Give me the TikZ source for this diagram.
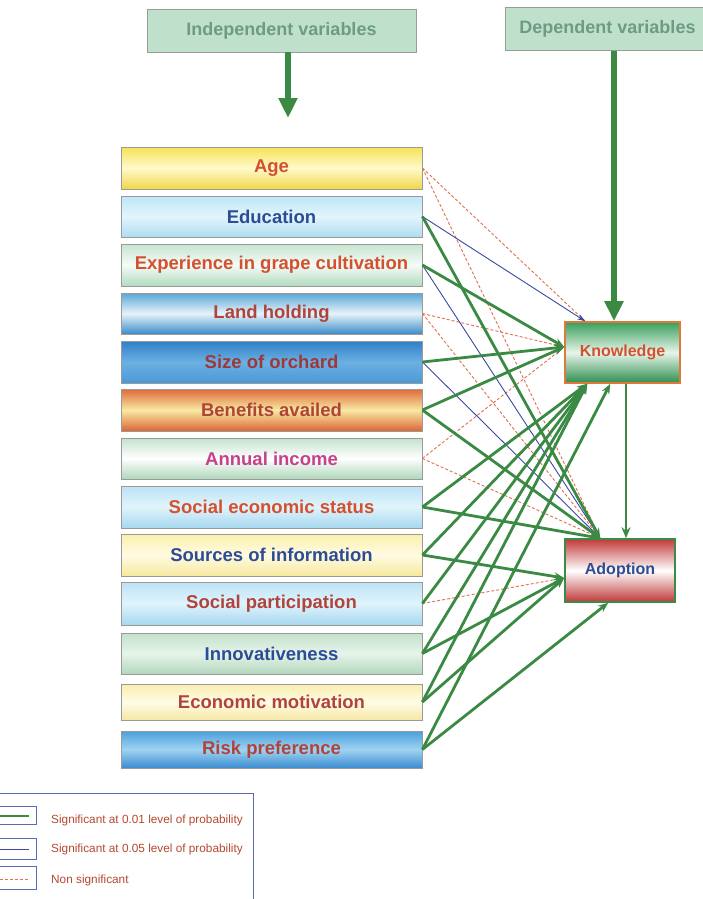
\documentclass[tikz,border=0pt]{standalone}
\usepackage{fontspec}
\setmainfont{Liberation Sans}
\usetikzlibrary{arrows.meta,calc}
\definecolor{boxgray}{HTML}{9A9A9A}
\definecolor{tred}{HTML}{D4502E}
\definecolor{tbrown}{HTML}{B0443A}
\definecolor{tdark}{HTML}{9E3838}
\definecolor{tblue}{HTML}{2C4C96}
\definecolor{tpink}{HTML}{C8408C}
\definecolor{sgreen}{HTML}{3A8A44}
\definecolor{sblue}{HTML}{3A4AA0}
\definecolor{nsred}{HTML}{E0704E}
\definecolor{topfill}{HTML}{BFE1CB}
\definecolor{toptext}{HTML}{6E9A86}
\definecolor{legblue}{HTML}{5A6AB0}
\definecolor{legtext}{HTML}{B44A2E}
\definecolor{knborder}{HTML}{E0783A}
\definecolor{adborder}{HTML}{3A8A48}
% fills: A = top, B = middle, C = bottom
\definecolor{ageA}{HTML}{F6E256}\definecolor{ageB}{HTML}{FFF9CC}\definecolor{ageC}{HTML}{F1D74A}
\definecolor{eduA}{HTML}{BFE6F7}\definecolor{eduB}{HTML}{E2F5FC}\definecolor{eduC}{HTML}{AEDCF1}
\definecolor{expA}{HTML}{C6E5CF}\definecolor{expB}{HTML}{F5FBF7}\definecolor{expC}{HTML}{B2DBBF}
\definecolor{lanA}{HTML}{5AA6D6}\definecolor{lanB}{HTML}{E6F3FA}\definecolor{lanC}{HTML}{3C8CC8}
\definecolor{sizA}{HTML}{2E7FC8}\definecolor{sizB}{HTML}{6CB0E2}\definecolor{sizC}{HTML}{4A98D6}
\definecolor{benA}{HTML}{E06A3A}\definecolor{benB}{HTML}{F7E9A2}\definecolor{benC}{HTML}{DC6638}
\definecolor{annA}{HTML}{C4E3CD}\definecolor{annB}{HTML}{FFFFFF}\definecolor{annC}{HTML}{AED7BA}
\definecolor{sesA}{HTML}{BCE3F5}\definecolor{sesB}{HTML}{E0F4FC}\definecolor{sesC}{HTML}{A6D7EF}
\definecolor{srcA}{HTML}{FBF0AE}\definecolor{srcB}{HTML}{FFFBE2}\definecolor{srcC}{HTML}{F6E89E}
\definecolor{innA}{HTML}{C2E1CB}\definecolor{innB}{HTML}{E6F4EA}\definecolor{innC}{HTML}{B2D7BD}
\definecolor{ecoA}{HTML}{FAEEAE}\definecolor{ecoB}{HTML}{FFFCE6}\definecolor{ecoC}{HTML}{F5E7A6}
\definecolor{rskA}{HTML}{4AA0DC}\definecolor{rskB}{HTML}{A0D3F2}\definecolor{rskC}{HTML}{3A8CD0}
\definecolor{knA}{HTML}{3A9E5A}\definecolor{knB}{HTML}{E6F5EA}\definecolor{knC}{HTML}{2E8E4E}
\definecolor{adA}{HTML}{C23A3A}\definecolor{adB}{HTML}{FFFFFF}\definecolor{adC}{HTML}{C03838}
\begin{document}
\begin{tikzpicture}[x=1pt,y=-1pt,
  ivbox/.style={draw=boxgray, line width=0.8pt, minimum width=301pt, inner sep=0pt,
    font=\bfseries\fontsize{18.5}{20}\selectfont},
  shd/.style={top color=#1A, bottom color=#1C, middle color=#1B},
  topbox/.style={draw=boxgray, line width=0.8pt, fill=topfill, inner sep=0pt,
    text=toptext, font=\bfseries\fontsize{18}{20}\selectfont},
  sig1/.style={draw=sgreen, line width=2.8pt, -{Stealth[length=10pt,width=8pt]}},
  sig5/.style={draw=sblue, line width=0.9pt, -{Stealth[length=8pt,width=5.5pt]}},
  nsig/.style={draw=nsred, line width=0.9pt, dash pattern=on 3pt off 2pt},
  bigarrow/.style={draw=sgreen, line width=6pt, -{Triangle[length=20pt,width=18pt]}},
  medarrow/.style={draw=sgreen, line width=2.4pt, -{Stealth[length=11pt,width=9pt]}},
  legtxt/.style={anchor=west, inner sep=0pt, text=legtext, font=\fontsize{11.8}{13}\selectfont},
  legbox/.style={draw=legblue, line width=0.8pt}
]
\useasboundingbox (0,0) rectangle (703,899);
\clip (0,0) rectangle (703,899);
\fill[white] (0,0) rectangle (703,899);

% top boxes
\node[topbox, minimum width=269pt, minimum height=43pt] (iv) at (281.5,30.5) {Independent variables};
\node[topbox, minimum width=205pt, minimum height=43pt] (dv) at (607.5,29) {Dependent variables};

% independent variable boxes
\node[ivbox, minimum height=42pt, shd=age, text=tred] (age) at (271.5,168) {Age};
\node[ivbox, minimum height=41pt, shd=edu, text=tblue] (edu) at (271.5,216.5) {Education};
\node[ivbox, minimum height=42pt, shd=exp, text=tred] (exp) at (271.5,265) {Experience in grape cultivation};
\node[ivbox, minimum height=41pt, shd=lan, text=tbrown] (land) at (271.5,313.5) {Land holding};
\node[ivbox, minimum height=42pt, shd=siz, text=tdark] (size) at (271.5,362) {Size of orchard};
\node[ivbox, minimum height=42pt, shd=ben, text=tbrown] (ben) at (271.5,410) {Benefits availed};
\node[ivbox, minimum height=41pt, shd=ann, text=tpink] (ann) at (271.5,458.5) {Annual income};
\node[ivbox, minimum height=42pt, shd=ses, text=tred] (ses) at (271.5,507) {Social economic status};
\node[ivbox, minimum height=42pt, shd=src, text=tblue] (src) at (271.5,555) {Sources of information};
\node[ivbox, minimum height=43pt, shd=ses, text=tbrown] (sp) at (271.5,603.5) {Social participation};
\node[ivbox, minimum height=41pt, shd=inn, text=tblue] (inn) at (271.5,653.5) {Innovativeness};
\node[ivbox, minimum height=36pt, shd=eco, text=tbrown] (eco) at (271.5,702) {Economic motivation};
\node[ivbox, minimum height=37pt, shd=rsk, text=tbrown] (risk) at (271.5,749.5) {Risk preference};

% dependent variable boxes
\node[draw=knborder, line width=1.6pt, minimum width=115pt, minimum height=61pt, inner sep=0pt,
  shd=kn, text=tred, font=\bfseries\fontsize{16}{18}\selectfont] (kn) at (622.5,352.5) {Knowledge};
\node[draw=adborder, line width=1.6pt, minimum width=110pt, minimum height=63pt, inner sep=0pt,
  shd=ad, text=tblue, font=\bfseries\fontsize{16}{18}\selectfont] (ad) at (620,570.5) {Adoption};

% target points
\coordinate (kT) at ($(kn.north west)+(21,0)$);
\coordinate (kL) at ($(kn.west)+(0,-5.5)$);
\coordinate (kB) at ($(kn.south west)+(23,0)$);
\coordinate (kB2) at ($(kn.south west)+(46,0)$);
\coordinate (aT) at ($(ad.north west)+(36,0)$);
\coordinate (aL) at ($(ad.west)+(0,7.5)$);
\coordinate (aB) at ($(ad.south west)+(44,0)$);
\coordinate (ivtip) at (288,118);

% main arrows
\draw[bigarrow] (iv.south -| ivtip) -- (ivtip);
\draw[bigarrow] ($(dv.south)+(6.5,0)$) -- ($(kn.north)+(-8.5,0)$);
\draw[medarrow] ($(kn.south)+(3.5,0)$) -- ($(ad.north)+(6,0)$);

% non significant
\draw[nsig] (age.east) -- (kT);
\draw[nsig] (age.east) -- (aT);
\draw[nsig] (land.east) -- (kL);
\draw[nsig] (land.east) -- (aT);
\draw[nsig] (ann.east) -- (kL);
\draw[nsig] (ann.east) -- (aT);
\draw[nsig] (sp.east) -- (aL);

% significant at 0.05
\draw[sig5] (edu.east) -- (kT);
\draw[sig5] (exp.east) -- (aT);
\draw[sig5] (size.east) -- (aT);

% significant at 0.01
\draw[sig1] (edu.east) -- (aT);
\draw[sig1] (exp.east) -- (kL);
\draw[sig1] (size.east) -- (kL);
\draw[sig1] (ben.east) -- (kL);
\draw[sig1] (ben.east) -- (aT);
\draw[sig1] (ses.east) -- (kB);
\draw[sig1] (ses.east) -- (aT);
\draw[sig1] (src.east) -- (kB);
\draw[sig1] (src.east) -- (aL);
\draw[sig1] (sp.east) -- (kB);
\draw[sig1] (inn.east) -- (kB);
\draw[sig1] (inn.east) -- (aL);
\draw[sig1] (eco.east) -- (kB);
\draw[sig1] (eco.east) -- (aL);
\draw[sig1] (risk.east) -- (kB2);
\draw[sig1] (risk.east) -- (aB);

% legend
\draw[legbox] (-5,793) rectangle (253,910);
\draw[legbox] (-5,806) rectangle (36,824);
\draw[legbox] (-5,838) rectangle (36,859);
\draw[legbox] (-5,866) rectangle (36,889);
\draw[draw=sgreen, line width=2.6pt] (-5,816) -- (29,816);
\draw[draw=sblue, line width=0.9pt] (-5,849) -- (29,849);
\draw[nsig] (-5,879) -- (29,879);
\node[legtxt] (l1) at (51,820) {Significant at 0.01 level of probability};
\node[legtxt] (l2) at (51,849) {Significant at 0.05 level of probability};
\node[legtxt] (l3) at (51,880) {Non significant};
\end{tikzpicture}
\end{document}
